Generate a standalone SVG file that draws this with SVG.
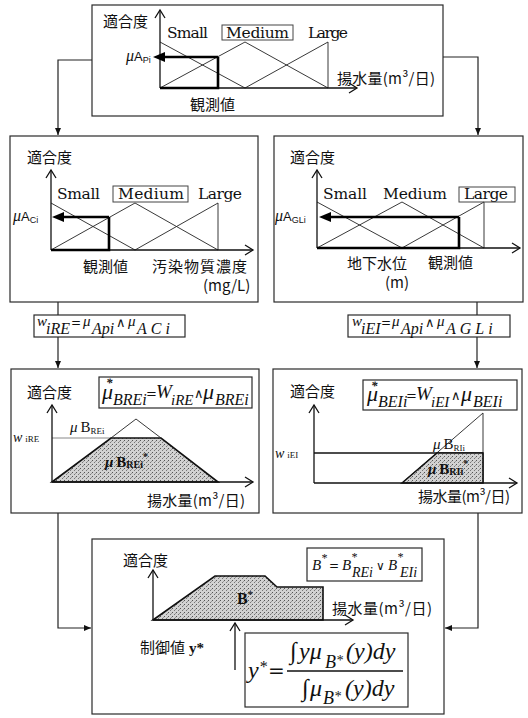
<svg xmlns="http://www.w3.org/2000/svg" width="528" height="718" viewBox="0 0 528 718">
<defs>
<style>
.box{fill:#fff;stroke:#2a2a2a;stroke-width:1.2}
.lbl{fill:none;stroke:#444;stroke-width:1}
.ax{fill:none;stroke:#111;stroke-width:1.3}
.mf{fill:none;stroke:#222;stroke-width:0.9}
.obs{fill:none;stroke:#000;stroke-width:2.6}
.con{fill:none;stroke:#222;stroke-width:1.2}
.jp{font-family:"Noto Sans CJK JP",sans-serif;font-size:15px;fill:#111}
.en{font-family:"DejaVu Serif",serif;font-size:15.5px;fill:#111}
.m{font-family:"Liberation Serif",serif;font-style:italic;fill:#111}
.s{font-family:"Liberation Serif",serif;fill:#111}
.op{font-family:"DejaVu Serif",serif;font-style:normal;fill:#111}
.ss{font-family:"Liberation Sans",sans-serif;fill:#111}
.fill{fill:url(#dots);stroke:#111;stroke-width:1.6}
</style>
<pattern id="dots" width="4" height="4" patternUnits="userSpaceOnUse">
<rect width="4" height="4" fill="#d2d2d2"/>
<rect x="0" y="0" width="1" height="1" fill="#555"/>
<rect x="2" y="2" width="1" height="1" fill="#777"/>
<rect x="3" y="1" width="1" height="1" fill="#999"/>
</pattern>
<marker id="chev" markerWidth="12" markerHeight="12" refX="9" refY="6" orient="auto" markerUnits="userSpaceOnUse">
<path d="M1,1 L9,6 L1,11" fill="none" stroke="#111" stroke-width="1.3"/>
</marker>
<marker id="tri" markerWidth="8" markerHeight="8" refX="7" refY="4" orient="auto" markerUnits="userSpaceOnUse">
<path d="M0,1 L7,4 L0,7 Z" fill="#111"/>
</marker>
<marker id="obsA" markerWidth="12" markerHeight="10" refX="2" refY="5" orient="auto" markerUnits="userSpaceOnUse">
<path d="M0,0 L12,5 L0,10 Z" fill="#000"/>
</marker>
</defs>

<g id="connectors">
<path class="con" d="M92,60 H58 V135" marker-end="url(#tri)"/>
<path class="con" d="M443,57 H478 V135" marker-end="url(#tri)"/>
<path class="con" d="M58,302 V315"/>
<path class="con" d="M58,337 V368" marker-end="url(#tri)"/>
<path class="con" d="M477,302 V315"/>
<path class="con" d="M477,337 V368" marker-end="url(#tri)"/>
<path class="con" d="M58,513 V628 H91" marker-end="url(#tri)"/>
<path class="con" d="M478,513 V628 H445" marker-end="url(#tri)"/>
</g>

<g id="top">
<rect class="box" x="92" y="5" width="351" height="111"/>
<text class="jp" x="103" y="27">適合度</text>
<path class="mf" d="M160,42 L245,88 M160,88 L245,42 L328,88 M245,88 L328,42 V88"/>
<path class="ax" d="M160,88 V10" marker-end="url(#chev)"/>
<path class="ax" d="M160,88 H357" marker-end="url(#chev)"/>
<path class="obs" d="M160,88 H218 V57"/>
<path class="obs" d="M218,57 H163" marker-end="url(#obsA)"/>
<text class="en" x="167" y="38" textLength="41">Small</text>
<rect class="lbl" x="222" y="25" width="71" height="15"/>
<text class="en" x="226" y="38" textLength="63">Medium</text>
<text class="en" x="308" y="38" textLength="40">Large</text>
<text x="126" y="61"><tspan class="m" font-size="16">μ</tspan><tspan class="ss" font-size="13">A</tspan><tspan class="ss" font-size="9" dy="2">Pi</tspan></text>
<text class="jp" x="337" y="84" textLength="98">揚水量(m³/日)</text>
<text class="jp" x="190" y="110">観測値</text>
</g>

<g id="mid-left">
<rect class="box" x="10" y="136" width="248" height="166"/>
<text class="jp" x="27" y="163">適合度</text>
<path class="mf" d="M51,203 L135,250 M51,250 L135,203 L218,250 M135,250 L218,203 V250"/>
<path class="ax" d="M51,250 V170" marker-end="url(#chev)"/>
<path class="ax" d="M51,250 H253" marker-end="url(#chev)"/>
<path class="obs" d="M51,250 H109 V217"/>
<path class="obs" d="M109,217 H62" marker-end="url(#obsA)"/>
<text class="en" x="57" y="199" textLength="43">Small</text>
<rect class="lbl" x="113" y="186" width="75" height="16"/>
<text class="en" x="118" y="199" textLength="66">Medium</text>
<text class="en" x="198" y="199" textLength="44">Large</text>
<text x="13" y="221"><tspan class="m" font-size="16">μ</tspan><tspan class="ss" font-size="13">A</tspan><tspan class="ss" font-size="9" dy="2">Ci</tspan></text>
<text class="jp" x="83" y="272">観測値</text>
<text class="jp" x="152" y="272" textLength="95">汚染物質濃度</text>
<text class="jp" x="203" y="291">(mg/L)</text>
</g>

<g id="mid-right">
<rect class="box" x="274" y="136" width="249" height="166"/>
<text class="jp" x="290" y="163">適合度</text>
<path class="mf" d="M317,202 L402,248 M317,248 L402,202 L484,248 M402,248 L484,202 V248"/>
<path class="ax" d="M317,248 V170" marker-end="url(#chev)"/>
<path class="ax" d="M317,248 H520" marker-end="url(#chev)"/>
<path class="obs" d="M317,248 H459 V217"/>
<path class="obs" d="M459,217 H329" marker-end="url(#obsA)"/>
<text class="en" x="323" y="199" textLength="44">Small</text>
<text class="en" x="383" y="199" textLength="64">Medium</text>
<rect class="lbl" x="459" y="187" width="56" height="15"/>
<text class="en" x="464" y="199" textLength="44">Large</text>
<text x="275" y="221"><tspan class="m" font-size="16">μ</tspan><tspan class="ss" font-size="13">A</tspan><tspan class="ss" font-size="9" dy="2">GLi</tspan></text>
<text class="jp" x="347" y="269">地下水位</text>
<text class="jp" x="385" y="288">(m)</text>
<text class="jp" x="428" y="268">観測値</text>
</g>

<g id="w-left">
<rect class="box" x="34" y="315" width="151" height="22"/>
<text class="m" font-size="15"><tspan x="37" y="326">w</tspan><tspan x="46" y="334" font-size="16">iRE</tspan><tspan x="71" y="327" class="op" font-size="12">=</tspan><tspan x="83" y="326">μ</tspan><tspan x="92" y="334" font-size="16">Api</tspan><tspan x="116" y="327" class="op" font-size="13">∧</tspan><tspan x="128" y="326">μ</tspan><tspan x="137" y="334" font-size="16" letter-spacing="4">ACi</tspan></text>
</g>

<g id="w-right">
<rect class="box" x="348" y="315" width="162" height="22"/>
<text class="m" font-size="15"><tspan x="352" y="326">w</tspan><tspan x="361" y="334" font-size="16">iEI</tspan><tspan x="381" y="327" class="op" font-size="12">=</tspan><tspan x="392" y="326">μ</tspan><tspan x="401" y="334" font-size="16">Api</tspan><tspan x="425" y="327" class="op" font-size="13">∧</tspan><tspan x="437" y="326">μ</tspan><tspan x="446" y="334" font-size="16" letter-spacing="4">AGLi</tspan></text>
</g>

<g id="low-left">
<rect class="box" x="11" y="369" width="248" height="144"/>
<text class="jp" x="27" y="398">適合度</text>
<rect class="box" x="99" y="377" width="153" height="31"/>
<text class="m" font-size="22"><tspan x="106" y="387" class="s" font-size="13" font-weight="bold">*</tspan><tspan x="102" y="399">μ</tspan><tspan x="113" y="405" font-size="16">BREi</tspan><tspan x="146" y="398" class="op" font-size="13">=</tspan><tspan x="156" y="398" font-size="19">W</tspan><tspan x="171" y="405" font-size="15">iRE</tspan><tspan x="194" y="398" class="op" font-size="13">∧</tspan><tspan x="203" y="399">μ</tspan><tspan x="215" y="405" font-size="16">BREi</tspan></text>
<path d="M52,438 H112" stroke="#888" stroke-width="1"/>
<path class="fill" d="M52,482 L111,438 L161,438 L218,482 Z"/>
<path class="mf" d="M111,438 L136,419 L161,438"/>
<path class="ax" d="M52,482 V405" marker-end="url(#chev)"/>
<path class="ax" d="M52,482 H253" marker-end="url(#chev)"/>
<text x="13" y="442"><tspan class="m" font-size="14">w</tspan><tspan class="s" font-size="9" dx="3">iRE</tspan></text>
<text x="70" y="432"><tspan class="m" font-size="15">μ</tspan><tspan class="s" font-size="15" dx="3">B</tspan><tspan class="s" font-size="9" dy="2">REi</tspan></text>
<text x="105" y="467" font-weight="bold"><tspan class="m" font-size="15">μ</tspan><tspan class="s" font-size="15" dx="3">B</tspan><tspan class="s" font-size="10" dy="1">REi</tspan><tspan class="s" font-size="10" dy="-8">*</tspan></text>
<text class="jp" x="147" y="506" textLength="98">揚水量(m³/日)</text>
</g>

<g id="low-right">
<rect class="box" x="273" y="369" width="249" height="144"/>
<text class="jp" x="290" y="397">適合度</text>
<rect class="box" x="363" y="380" width="154" height="30"/>
<text class="m" font-size="22"><tspan x="371" y="390" class="s" font-size="13" font-weight="bold">*</tspan><tspan x="367" y="401">μ</tspan><tspan x="378" y="407" font-size="16">BEIi</tspan><tspan x="406" y="400" class="op" font-size="13">=</tspan><tspan x="416" y="400" font-size="19">W</tspan><tspan x="431" y="407" font-size="15">iEI</tspan><tspan x="451" y="400" class="op" font-size="13">∧</tspan><tspan x="461" y="401">μ</tspan><tspan x="473" y="407" font-size="16">BEIi</tspan></text>
<path class="mf" d="M402,483 L483,413 V483"/>
<path d="M314,453 H483" stroke="#111" stroke-width="1.4"/>
<path class="fill" d="M402,483 L437,453 H483 V483 Z"/>
<path class="ax" d="M314,483 V405" marker-end="url(#chev)"/>
<path class="ax" d="M314,483 H517" marker-end="url(#chev)"/>
<text x="275" y="458"><tspan class="m" font-size="14">w</tspan><tspan class="s" font-size="9" dx="3">iEI</tspan></text>
<text x="433" y="449"><tspan class="m" font-size="15">μ</tspan><tspan class="s" font-size="15" dx="3">B</tspan><tspan class="s" font-size="9" dy="2">RIi</tspan></text>
<text x="428" y="474" font-weight="bold"><tspan class="m" font-size="15">μ</tspan><tspan class="s" font-size="15" dx="3">B</tspan><tspan class="s" font-size="10" dy="1">RIi</tspan><tspan class="s" font-size="10" dy="-8">*</tspan></text>
<text class="jp" x="418" y="502" textLength="92">揚水量(m³/日)</text>
</g>

<g id="bottom">
<rect class="box" x="92" y="539" width="352" height="175"/>
<text class="jp" x="123" y="566">適合度</text>
<rect class="box" x="307" y="548" width="115" height="33"/>
<text class="m" font-size="15"><tspan x="312" y="570">B</tspan><tspan x="321" y="562" font-size="12">*</tspan><tspan x="329" y="570" class="op" font-size="12">=</tspan><tspan x="342" y="570">B</tspan><tspan x="351" y="561" font-size="12">*</tspan><tspan x="352" y="577" font-size="14">REi</tspan><tspan x="376" y="570" class="op" font-size="12">∨</tspan><tspan x="388" y="570">B</tspan><tspan x="397" y="561" font-size="12">*</tspan><tspan x="400" y="577" font-size="14">EIi</tspan></text>
<path class="fill" d="M153,620 L215,576 H265 L277,587 H323 V620 Z"/>
<path class="ax" d="M153,620 V570" marker-end="url(#chev)"/>
<path class="ax" d="M153,620 H353" marker-end="url(#chev)"/>
<text x="237" y="604" font-weight="bold"><tspan class="s" font-size="16">B</tspan><tspan class="s" font-size="10" dy="-6">*</tspan></text>
<text class="jp" x="332" y="614" textLength="100">揚水量(m³/日)</text>
<path class="ax" d="M235,670 V623" marker-end="url(#chev)"/>
<text x="140" y="653"><tspan class="jp">制御値</tspan><tspan class="s" font-size="15" font-weight="bold" dx="4">y*</tspan></text>
<rect class="box" x="245" y="633" width="163" height="74"/>
<text class="m" font-size="24"><tspan x="248" y="678">y</tspan><tspan x="259" y="672" font-size="16">*</tspan><tspan x="268" y="678" class="op" font-size="20">=</tspan><tspan x="290" y="659">∫</tspan><tspan x="299" y="659">yμ</tspan><tspan x="325" y="668" font-size="18">B</tspan><tspan x="336" y="665" font-size="14">*</tspan><tspan x="346" y="659">(y)dy</tspan><tspan x="302" y="696">∫</tspan><tspan x="310" y="696">μ</tspan><tspan x="323" y="704" font-size="18">B</tspan><tspan x="334" y="701" font-size="14">*</tspan><tspan x="345" y="696">(y)dy</tspan></text>
<path d="M287,671 H403" stroke="#111" stroke-width="1.3"/>
</g>
</svg>
